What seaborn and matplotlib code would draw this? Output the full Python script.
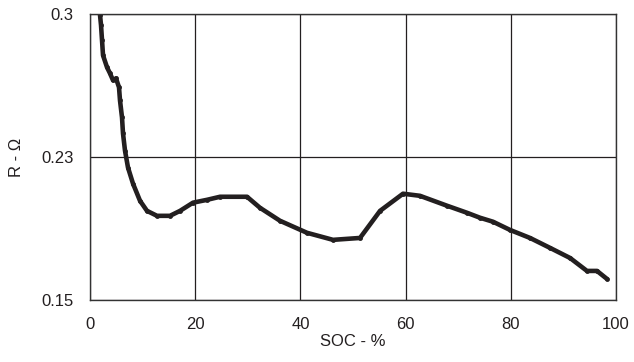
import matplotlib
matplotlib.use("Agg")
import matplotlib.pyplot as plt
import seaborn as sns
import pandas as pd

soc = [1.9, 2.09, 2.28, 2.47, 3.23, 3.8, 4.37, 4.94, 5.51, 5.7, 6.08, 6.27, 6.65, 7.22,
       8.17, 9.5, 10.83, 12.74, 15.2, 17.11, 19.58, 22.25, 24.72, 29.85, 32.32, 36.12,
       41.25, 46.2, 51.33, 55.14, 59.51, 62.73, 67.87, 71.67, 74.14, 76.62, 79.85,
       83.65, 87.45, 91.26, 94.48, 96.39, 98.29]
resistance = [0.2995, 0.2942, 0.2863, 0.2784, 0.2721, 0.2689, 0.2653, 0.2663, 0.2616,
              0.2547, 0.2458, 0.2374, 0.2284, 0.2195, 0.2111, 0.2021, 0.1968, 0.1942,
              0.1942, 0.1968, 0.2011, 0.2026, 0.2042, 0.2042, 0.1984, 0.1916, 0.1853,
              0.1816, 0.1826, 0.1968, 0.2058, 0.2047, 0.1995, 0.1958, 0.1932, 0.1911,
              0.1868, 0.1826, 0.1774, 0.1721, 0.1653, 0.1653, 0.1611]
x_ticks = [0, 20, 40, 60, 80, 100]
y_ticks = [0.15, 0.225, 0.3]
y_tick_labels = ["0.15", "0.23", "0.3"]

sns.set_style("white")
plt.rcParams['font.family'] = ['Liberation Sans', 'DejaVu Sans']

df = pd.DataFrame({"SOC": soc, "R": resistance})

fig = plt.figure(figsize=(6.34, 3.62), dpi=100)
ax = fig.add_axes([0.142, 0.171, 0.8296, 0.790])

sns.lineplot(data=df, x="SOC", y="R", ax=ax, color="#231f20", linewidth=3.3,
             marker="o", markersize=3.5, markeredgewidth=0, solid_capstyle="round")

ax.set_xlim(0, 100)
ax.set_ylim(0.15, 0.3)
ax.set_xticks(x_ticks)
ax.set_yticks(y_ticks)
ax.set_yticklabels(y_tick_labels)
ax.grid(True, color="#231f20", linewidth=0.9)
ax.set_axisbelow(True)
ax.tick_params(length=0, labelsize=12, colors="#231f20", pad=12)
for s in ax.spines.values():
    s.set_color("#333333")
    s.set_linewidth(1.0)
ax.set_xlabel("SOC - %", fontsize=12, color="#231f20")
ax.set_ylabel("R - Ω", fontsize=12, color="#231f20")
ax.xaxis.set_label_coords(0.5, -0.118)
ax.yaxis.set_label_coords(-0.126, 0.5)

fig.savefig("out.png", dpi=100)
